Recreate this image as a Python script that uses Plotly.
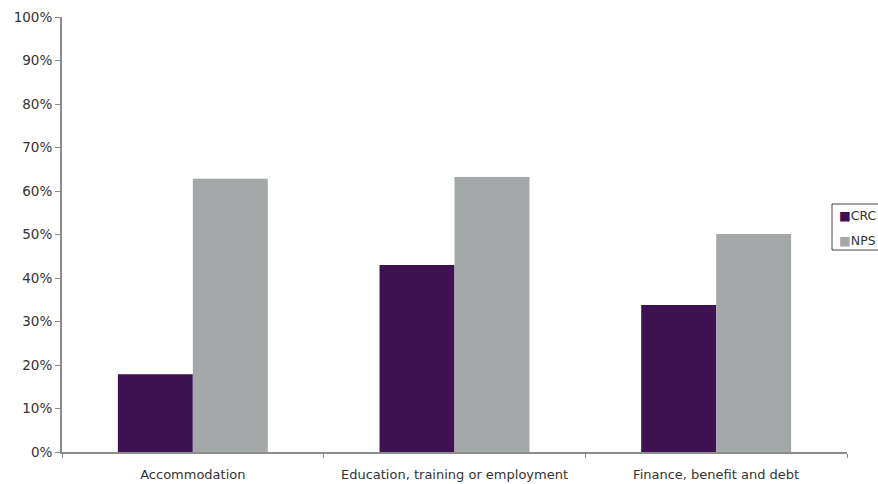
import plotly.graph_objects as go

categories = ["Accommodation", "Education, training or employment", "Finance, benefit and debt"]
crc_values = [17.9, 43.0, 33.8]
nps_values = [62.8, 63.2, 50.1]
y_ticks = [0, 10, 20, 30, 40, 50, 60, 70, 80, 90, 100]
y_tick_labels = [f"{v}%" for v in y_ticks]
series_names = ["CRC", "NPS"]
series_colors = ["#3D1152", "#A5A8A8"]

font_family = "DejaVu Sans, sans-serif"
W, H = 878, 484
ML, MR, MT, MB = 62, 31, 17, 32


def px_x(p):
    return (p - ML) / (W - ML - MR)


def px_y(p):
    return (H - MB - p) / (H - MT - MB)


fig = go.Figure()
for name, vals, col in zip(series_names, [crc_values, nps_values], series_colors):
    fig.add_trace(go.Bar(name=name, x=categories, y=vals,
                         marker=dict(color=col, line=dict(width=0)),
                         showlegend=False))

# legend box (custom, partly cut at the right edge like the reference)
fig.add_shape(type="rect", xref="paper", yref="paper",
              x0=px_x(832), x1=px_x(884), y0=px_y(250), y1=px_y(204),
              line=dict(color="#444444", width=1), fillcolor="white", layer="above")
for i, (name, col) in enumerate(zip(series_names, series_colors)):
    fig.add_annotation(xref="paper", yref="paper",
                       x=px_x(837), y=px_y(216 + 24 * i),
                       xanchor="left", yanchor="middle", showarrow=False,
                       text=f'<span style="color:{col}">■</span>{name}',
                       font=dict(size=12.5, color="#333333", family=font_family))

fig.update_layout(
    width=W, height=H,
    margin=dict(l=ML, r=MR, t=MT, b=MB, autoexpand=False),
    paper_bgcolor="white", plot_bgcolor="white",
    barmode="group", bargap=0.427, bargroupgap=0,
    font=dict(family=font_family, size=12, color="#333333"),
    showlegend=False,
)
fig.update_xaxes(showline=True, linecolor="#8c8c8c", linewidth=2,
                 ticks="outside", ticklen=4, tickcolor="#8c8c8c",
                 tickson="boundaries", showgrid=False,
                 ticklabelstandoff=9,
                 tickfont=dict(size=13, color="#333333"))
fig.update_yaxes(range=[0, 100], tickmode="array", tickvals=y_ticks,
                 ticktext=y_tick_labels,
                 showline=True, linecolor="#8c8c8c", linewidth=2,
                 ticks="outside", ticklen=5, tickcolor="#8c8c8c",
                 showgrid=False, zeroline=False,
                 tickfont=dict(size=13.5, color="#333333"))

fig.write_html("out.html")
